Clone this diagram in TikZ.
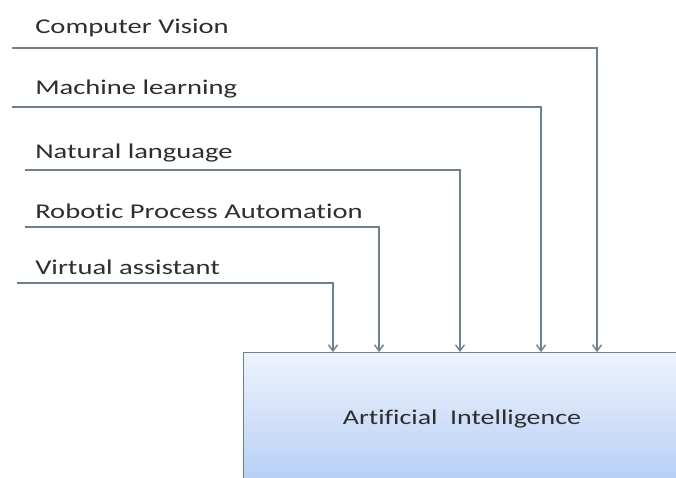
\documentclass[tikz,border=0pt]{standalone}
\usepackage{fontspec}
\setmainfont{Carlito}[RawFeature=-liga]
\usetikzlibrary{arrows.meta}
\begin{document}
\begin{tikzpicture}[x=1pt,y=-1pt,
  feed/.style={draw=linegray, line width=1.4pt, -{Straight Barb[length=6pt,width=9pt]}},
  lbl/.style={anchor=west, inner sep=0pt, font=\fontsize{21}{24}\selectfont, text=black!82, xscale=1.36},
  aibox/.style={draw=linegray, line width=1.4pt, top color=boxtop, bottom color=boxbot, minimum width=480pt, minimum height=160pt, inner sep=0pt, anchor=north west}]
\definecolor{linegray}{HTML}{6E8090}
\definecolor{boxtop}{HTML}{EEF3FC}
\definecolor{boxbot}{HTML}{A9C6F4}
\useasboundingbox (0,0) rectangle (676,477);
\clip (0,0) rectangle (676,477);
\fill[white] (0,0) rectangle (676,477);
% target box, running past the right and bottom edges
\node[aibox] (ai) at (243,352) {};
\node[font=\fontsize{21}{24}\selectfont, text=black!82, xscale=1.33] (ait) at (462,419) {Artificial\ \ Intelligence};
% source labels
\node[lbl] (cv) at (35,28) {Computer Vision};
\node[lbl] (ml) at (35,89) {Machine learning};
\node[lbl] (nl) at (35,153) {Natural language};
\node[lbl] (rpa) at (35,211) {Robotic Process Automation};
\node[lbl] (va) at (35,267) {Virtual assistant};
% line starts and bend points
\coordinate (cvs) at (12,48);  \coordinate (cvb) at (597,48);
\coordinate (mls) at (12,107); \coordinate (mlb) at (541,107);
\coordinate (nls) at (25,170); \coordinate (nlb) at (460,170);
\coordinate (rps) at (25,227); \coordinate (rpb) at (379,227);
\coordinate (vas) at (17,283); \coordinate (vab) at (333,283);
\draw[feed] (cvs) -- (cvb) -- (cvb |- ai.north);
\draw[feed] (mls) -- (mlb) -- (mlb |- ai.north);
\draw[feed] (nls) -- (nlb) -- (nlb |- ai.north);
\draw[feed] (rps) -- (rpb) -- (rpb |- ai.north);
\draw[feed] (vas) -- (vab) -- (vab |- ai.north);
\end{tikzpicture}
\end{document}
